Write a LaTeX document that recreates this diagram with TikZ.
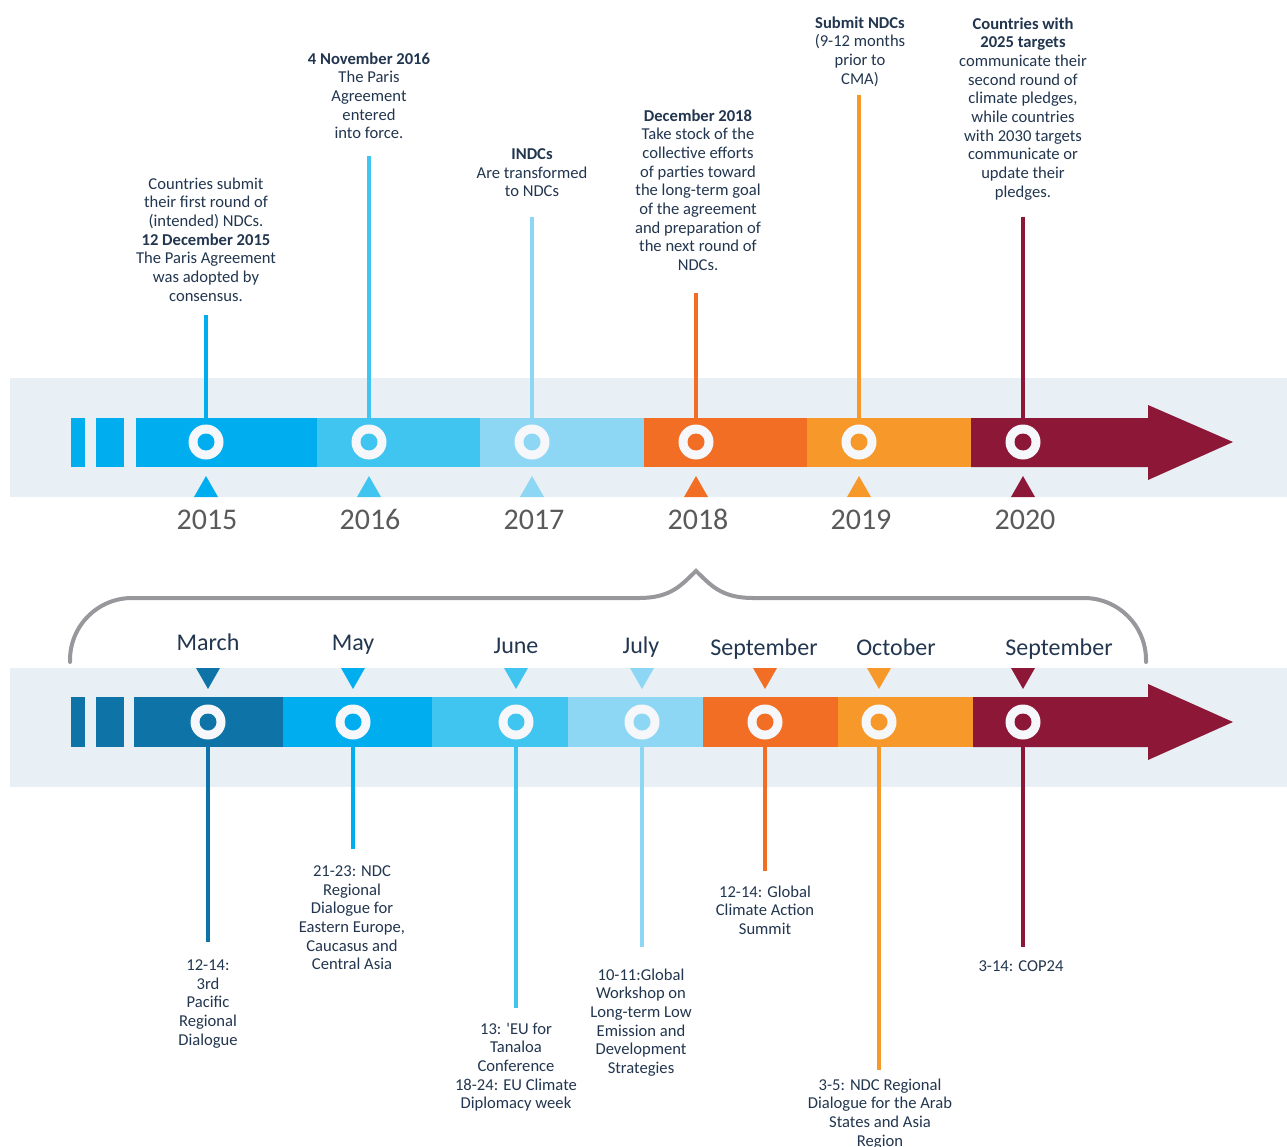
\documentclass[tikz,border=0pt]{standalone}
\usepackage{fontspec}
\setmainfont{Carlito}
\definecolor{bandbg}{HTML}{E8F0F6}
\definecolor{ringw}{HTML}{F5F7FA}
\definecolor{navy}{HTML}{22364F}
\definecolor{yeargray}{HTML}{5A5A5A}
\definecolor{bracegray}{HTML}{98989C}
\definecolor{cdark}{HTML}{0E74A8}
\definecolor{ca}{HTML}{00AEEF}
\definecolor{cb}{HTML}{40C4F0}
\definecolor{cc}{HTML}{8DD7F5}
\definecolor{cd}{HTML}{F26E24}
\definecolor{ce}{HTML}{F7992A}
\definecolor{cf}{HTML}{8D1737}
\begin{document}
\begin{tikzpicture}[x=1pt,y=-1pt,
  txt/.style={font=\fontsize{16.6}{18.65}\selectfont, text=navy, align=center, inner sep=0pt, anchor=north},
  yr/.style={font=\fontsize{30}{36}\selectfont, text=yeargray, anchor=base, inner sep=0pt},
  mon/.style={font=\fontsize{24}{28}\selectfont, text=navy, anchor=base, inner sep=0pt},
  ring/.style={circle, fill=ringw, minimum size=35pt, inner sep=0pt},
  stem/.style={line width=3.5pt}]
\useasboundingbox (0,0) rectangle (1287,1147);
\fill[white] (0,0) rectangle (1287,1147);
% ---------------- top band ----------------
\fill[bandbg] (10,378) rectangle (1287,497);
\fill[ca] (71,418) rectangle (85,467);
\fill[ca] (96,418) rectangle (124,467);
\fill[ca] (136,418) rectangle (317,467);
\fill[cb] (317,418) rectangle (480,467);
\fill[cc] (480,418) rectangle (644,467);
\fill[cd] (644,418) rectangle (807,467);
\fill[ce] (807,418) rectangle (971,467);
\fill[cf] (971,418) -- (1148,418) -- (1148,405) -- (1233,442) -- (1148,480) -- (1148,467) -- (971,467) -- cycle;
% stems top
\coordinate (e1) at (206,315);
\coordinate (e2) at (369,156);
\coordinate (e3) at (532,217);
\coordinate (e4) at (696,293);
\coordinate (e5) at (859,95);
\coordinate (e6) at (1023,217);
\draw[stem,ca] (e1) -- (206,442);
\draw[stem,cb] (e2) -- (369,442);
\draw[stem,cc] (e3) -- (532,442);
\draw[stem,cd] (e4) -- (696,442);
\draw[stem,ce] (e5) -- (859,442);
\draw[stem,cf] (e6) -- (1023,442);
% circles top
\node[ring] (t1) at (206,442) {}; \fill[ca] (t1) circle (8.5);
\node[ring] (t2) at (369,442) {}; \fill[cb] (t2) circle (8.5);
\node[ring] (t3) at (532,442) {}; \fill[cc] (t3) circle (8.5);
\node[ring] (t4) at (696,442) {}; \fill[cd] (t4) circle (8.5);
\node[ring] (t5) at (859,442) {}; \fill[ce] (t5) circle (8.5);
\node[ring] (t6) at (1023,442) {}; \fill[cf] (t6) circle (8.5);
% triangles up
\fill[ca] (194,497) -- (206,476) -- (218,497) -- cycle;
\fill[cb] (357,497) -- (369,476) -- (381,497) -- cycle;
\fill[cc] (520,497) -- (532,476) -- (544,497) -- cycle;
\fill[cd] (684,497) -- (696,476) -- (708,497) -- cycle;
\fill[ce] (847,497) -- (859,476) -- (871,497) -- cycle;
\fill[cf] (1011,497) -- (1023,476) -- (1035,497) -- cycle;
% years
\node[yr] (y1) at (207,529) {2015};
\node[yr] (y2) at (370,529) {2016};
\node[yr] (y3) at (534,529) {2017};
\node[yr] (y4) at (698,529) {2018};
\node[yr] (y5) at (861,529) {2019};
\node[yr] (y6) at (1025,529) {2020};
% top texts
\node[txt] (tt1) at (206,177.5) {Countries submit\\their first round of\\(intended) NDCs.\\\textbf{12 December 2015}\\The Paris Agreement\\was adopted by\\consensus.};
\node[txt] (tt2) at (369,52.5) {\textbf{4 November 2016}\\The Paris\\Agreement\\entered\\into force.};
\node[txt] (tt3) at (532,148.5) {\textbf{INDCs}\\Are transformed\\to NDCs};
\node[txt] (tt4) at (698,109.5) {\textbf{December 2018}\\Take stock of the\\collective efforts\\of parties toward\\the long-term goal\\of the agreement\\and preparation of\\the next round of\\NDCs.};
\node[txt] (tt5) at (860,16.5) {\textbf{Submit NDCs}\\(9-12 months\\prior to\\CMA)};
\node[txt] (tt6) at (1023,17.5) {\textbf{Countries with}\\\textbf{2025 targets}\\communicate their\\second round of\\climate pledges,\\while countries\\with 2030 targets\\communicate or\\update their\\pledges.};
% ---------------- brace ----------------
\draw[bracegray, line width=4pt, line cap=round, rounded corners=62pt] (70,662) -- (70,598) -- (640,598);
\draw[bracegray, line width=4pt, line cap=round] (639,598) .. controls (672,598) and (682,584) .. (696,571) .. controls (710,584) and (720,598) .. (753,598);
\draw[bracegray, line width=4pt, line cap=round, rounded corners=62pt] (752,598) -- (1146,598) -- (1146,662);
% ---------------- lower band ----------------
\fill[bandbg] (10,668) rectangle (1287,787);
\fill[cdark] (71,697) rectangle (85,747);
\fill[cdark] (96,697) rectangle (124,747);
\fill[cdark] (134,697) rectangle (283,747);
\fill[ca] (283,697) rectangle (432,747);
\fill[cb] (432,697) rectangle (568,747);
\fill[cc] (568,697) rectangle (703,747);
\fill[cd] (703,697) rectangle (838,747);
\fill[ce] (838,697) rectangle (973,747);
\fill[cf] (973,697) -- (1148,697) -- (1148,684) -- (1233,722) -- (1148,760) -- (1148,747) -- (973,747) -- cycle;
% stems lower
\coordinate (f1) at (208,942);
\coordinate (f2) at (353,849);
\coordinate (f3) at (516,1008);
\coordinate (f4) at (642,947);
\coordinate (f5) at (765,871);
\coordinate (f6) at (879,1070);
\coordinate (f7) at (1023,947);
\node[ring] (l1) at (208,722) {};
\node[ring] (l2) at (353,722) {};
\node[ring] (l3) at (516,722) {};
\node[ring] (l4) at (642,722) {};
\node[ring] (l5) at (765,722) {};
\node[ring] (l6) at (879,722) {};
\node[ring] (l7) at (1023,722) {};
\draw[stem,cdark] (l1.south) -- (f1);
\draw[stem,ca] (l2.south) -- (f2);
\draw[stem,cb] (l3.south) -- (f3);
\draw[stem,cc] (l4.south) -- (f4);
\draw[stem,cd] (l5.south) -- (f5);
\draw[stem,ce] (l6.south) -- (f6);
\draw[stem,cf] (l7.south) -- (f7);
\fill[cdark] (l1) circle (8.5);
\fill[ca] (l2) circle (8.5);
\fill[cb] (l3) circle (8.5);
\fill[cc] (l4) circle (8.5);
\fill[cd] (l5) circle (8.5);
\fill[ce] (l6) circle (8.5);
\fill[cf] (l7) circle (8.5);
% triangles down
\fill[cdark] (196,668) -- (208,689) -- (220,668) -- cycle;
\fill[ca] (341,668) -- (353,689) -- (365,668) -- cycle;
\fill[cb] (504,668) -- (516,689) -- (528,668) -- cycle;
\fill[cc] (630,668) -- (642,689) -- (654,668) -- cycle;
\fill[cd] (753,668) -- (765,689) -- (777,668) -- cycle;
\fill[ce] (867,668) -- (879,689) -- (891,668) -- cycle;
\fill[cf] (1011,668) -- (1023,689) -- (1035,668) -- cycle;
% months
\node[mon] (m1) at (208,650) {March};
\node[mon] (m2) at (353,650) {May};
\node[mon] (m3) at (516,653) {June};
\node[mon] (m4) at (641,653) {July};
\node[mon] (m5) at (764,655) {September};
\node[mon] (m6) at (896,655) {October};
\node[mon] (m7) at (1059,655) {September};
% lower texts
\node[txt] (lt1) at (208,959.5) {12-14:\\3rd\\Pacific\\Regional\\Dialogue};
\node[txt] (lt2) at (352,865.5) {21-23: NDC\\Regional\\Dialogue for\\Eastern Europe,\\Caucasus and\\Central Asia};
\node[txt] (lt3) at (516,1022.5) {13: \textquotesingle EU for\\Tanaloa\\Conference\\18-24: EU Climate\\Diplomacy week};
\node[txt] (lt4) at (641,968.5) {10-11:Global\\Workshop on\\Long-term Low\\Emission and\\Development\\Strategies};
\node[txt] (lt5) at (765,885.5) {12-14: Global\\Climate Action\\Summit};
\node[txt] (lt6) at (880,1078.5) {3-5: NDC Regional\\Dialogue for the Arab\\States and Asia\\Region};
\node[txt] (lt7) at (1021,960.5) {3-14: COP24};
\end{tikzpicture}
\end{document}
